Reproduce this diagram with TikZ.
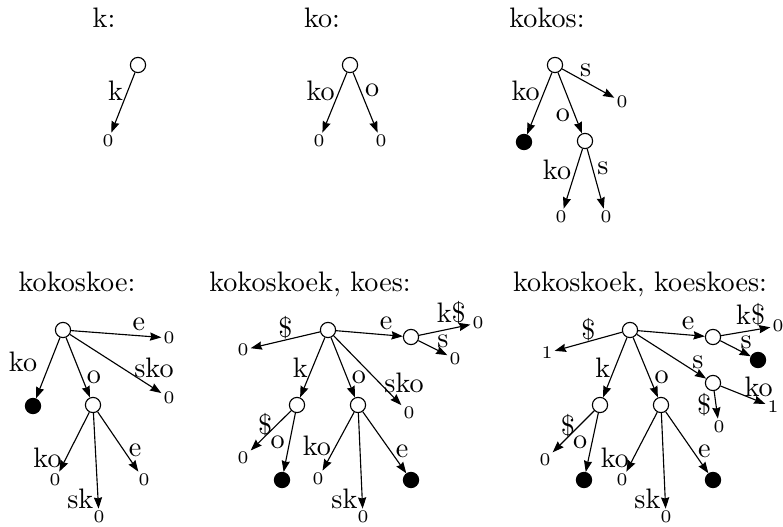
\documentclass[tikz,border=0pt]{standalone}
\usetikzlibrary{positioning,arrows.meta}
\tikzset{
  flow/.style={-{Stealth[length=4pt,width=2.9pt,inset=0.4pt]},thin},
  trienode/.style={draw,circle,fill=white,minimum size=5.4pt,inner sep=0pt},
  endnode/.style={draw,circle,fill=black,minimum size=5.4pt,inner sep=0pt},
  leafnode/.style={inner sep=0.6pt,font=\fontsize{6.3}{7}\selectfont},
  lbl/.style={inner sep=1.5pt},
  title/.style={anchor=base}
}
\begin{document}
\begin{tikzpicture}[x=0.355pt,y=-0.355pt]
  \useasboundingbox (0,0) rectangle (783,527);
  % k:
  \node[title] (ta) at (104,28) {k:};
  \node[trienode] (a0) at (138,65) {};
  \node[leafnode] (a1) at (108,141) {0};
  \draw[flow] (a0) -- node[lbl,left,pos=.3] {k} (a1);
  % ko:
  \node[title] (tb) at (322,28) {ko:};
  \node[trienode] (b0) at (350,65) {};
  \node[leafnode] (b1) at (319,141) {0};
  \node[leafnode] (b2) at (381,141) {0};
  \draw[flow] (b0) -- node[lbl,left,pos=.3] {ko} (b1);
  \draw[flow] (b0) -- node[lbl,right,pos=.3] {o} (b2);
  % kokos:
  \node[title] (tc) at (547,28) {kokos:};
  \node[trienode] (c0) at (555,65) {};
  \node[endnode] (c1) at (524,142) {};
  \node[trienode] (c2) at (585,141) {};
  \node[leafnode] (c3) at (622,102) {0};
  \node[leafnode] (c4) at (561,217) {0};
  \node[leafnode] (c5) at (606,217) {0};
  \draw[flow] (c0) -- node[lbl,left,pos=.3] {ko} (c1);
  \draw[flow] (c0) -- node[lbl,left,pos=.7] {o} (c2);
  \draw[flow] (c0) -- node[lbl,above,pos=.45] {s} (c3);
  \draw[flow] (c2) -- node[lbl,left,pos=.35] {ko} (c4);
  \draw[flow] (c2) -- node[lbl,right,pos=.32] {s} (c5);
  % kokoskoe:
  \node[title] (td) at (77,292) {kokoskoe:};
  \node[trienode] (d0) at (63,330) {};
  \node[endnode] (d1) at (33,406) {};
  \node[trienode] (d2) at (93,405) {};
  \node[leafnode] (d3) at (169,338) {0};
  \node[leafnode] (d4) at (169,398) {0};
  \node[leafnode] (d5) at (55,480) {0};
  \node[leafnode] (d6) at (99,517) {0};
  \node[leafnode] (d7) at (144,480) {0};
  \draw[flow] (d0) -- node[lbl,left=3pt,pos=.4] {ko} (d1);
  \draw[flow] (d0) -- node[lbl,right,pos=.67] {o} (d2);
  \draw[flow] (d0) -- node[lbl,above,pos=.75] {e} (d3);
  \draw[flow] (d0) -- node[lbl,above=2pt,pos=.92] {sko} (d4);
  \draw[flow] (d2) -- node[lbl,left,pos=.76] {ko} (d5);
  \draw[flow] (d2) -- node[lbl,left,pos=.9] {sk} (d6);
  \draw[flow] (d2) -- node[lbl,right,pos=.65] {e} (d7);
  % kokoskoek, koes:
  \node[title] (te) at (310,292) {kokoskoek, koes:};
  \node[trienode] (e0) at (328,330) {};
  \node[leafnode] (e1) at (243,350) {0};
  \node[trienode] (e2) at (411,337) {};
  \node[leafnode] (e3) at (478,323) {0};
  \node[leafnode] (e4) at (455,359) {0};
  \node[trienode] (e5) at (297,405) {};
  \node[trienode] (e6) at (358,405) {};
  \node[leafnode] (e7) at (409,413) {0};
  \node[leafnode] (e8) at (243,458) {0};
  \node[endnode] (e9) at (282,480) {};
  \node[leafnode] (e10) at (318,479) {0};
  \node[leafnode] (e11) at (363,517) {0};
  \node[endnode] (e12) at (411,480) {};
  \draw[flow] (e0) -- node[lbl,above=-1.5pt,pos=.5] {\$} (e1);
  \draw[flow] (e0) -- node[lbl,above,pos=.75] {e} (e2);
  \draw[flow] (e2) -- node[lbl,above,pos=.63] {k\$} (e3);
  \draw[flow] (e2) -- node[lbl,above,pos=.85] {s} (e4);
  \draw[flow] (e0) -- node[lbl,left,pos=.5] {k} (e5);
  \draw[flow] (e0) -- node[lbl,right,pos=.67] {o} (e6);
  \draw[flow] (e0) -- node[lbl,right,pos=.68] {sko} (e7);
  \draw[flow] (e5) -- node[lbl,left,pos=.35] {\$} (e8);
  \draw[flow] (e5) -- node[lbl,left,pos=.5] {o} (e9);
  \draw[flow] (e6) -- node[lbl,left,pos=.58] {ko} (e10);
  \draw[flow] (e6) -- node[lbl,left,pos=.9] {sk} (e11);
  \draw[flow] (e6) -- node[lbl,right,pos=.65] {e} (e12);
  % kokoskoek, koeskoes:
  \node[title] (tf) at (640,292) {kokoskoek, koeskoes:};
  \node[trienode] (f0) at (630,330) {};
  \node[leafnode] (f1) at (547,353) {1};
  \node[trienode] (f2) at (713,337) {};
  \node[leafnode] (f3) at (778,326) {0};
  \node[endnode] (f4) at (758,360) {};
  \node[trienode] (f5) at (713,383) {};
  \node[leafnode] (f6) at (773,407) {1};
  \node[leafnode] (f7) at (719,427) {0};
  \node[trienode] (f8) at (600,405) {};
  \node[trienode] (f9) at (661,405) {};
  \node[leafnode] (f10) at (545,460) {0};
  \node[endnode] (f11) at (584,480) {};
  \node[leafnode] (f12) at (622,480) {0};
  \node[leafnode] (f13) at (666,517) {0};
  \node[endnode] (f14) at (713,480) {};
  \draw[flow] (f0) -- node[lbl,above=-1.5pt,pos=.5] {\$} (f1);
  \draw[flow] (f0) -- node[lbl,above,pos=.75] {e} (f2);
  \draw[flow] (f2) -- node[lbl,above,pos=.6] {k\$} (f3);
  \draw[flow] (f2) -- node[lbl,above,pos=.85] {s} (f4);
  \draw[flow] (f0) -- node[lbl,above,pos=.88] {s} (f5);
  \draw[flow] (f5) -- node[lbl,above,pos=.85] {ko} (f6);
  \draw[flow] (f5) -- node[lbl,left,pos=.5] {\$} (f7);
  \draw[flow] (f0) -- node[lbl,left,pos=.5] {k} (f8);
  \draw[flow] (f0) -- node[lbl,right,pos=.67] {o} (f9);
  \draw[flow] (f8) -- node[lbl,left,pos=.35] {\$} (f10);
  \draw[flow] (f8) -- node[lbl,left,pos=.5] {o} (f11);
  \draw[flow] (f9) -- node[lbl,left,pos=.76] {ko} (f12);
  \draw[flow] (f9) -- node[lbl,left,pos=.9] {sk} (f13);
  \draw[flow] (f9) -- node[lbl,right,pos=.65] {e} (f14);
\end{tikzpicture}
\end{document}
